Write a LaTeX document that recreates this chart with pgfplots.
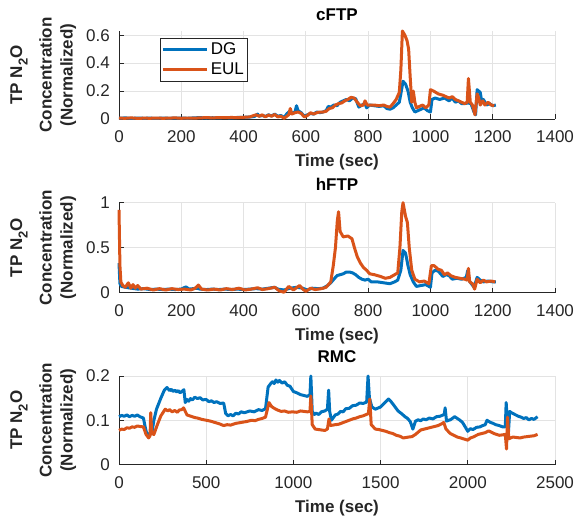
\documentclass[border=0pt]{standalone}
\usepackage{fontspec}
\setmainfont{Liberation Sans}
\usepackage{pgfplots}
\pgfplotsset{compat=1.18}
\definecolor{mBlue}{HTML}{0072BD}
\definecolor{mOrange}{HTML}{D95319}
\definecolor{axc}{HTML}{262626}
\definecolor{gridc}{HTML}{E3E3E3}
\pgfplotsset{
  mystyle/.style={
    scale only axis,
    width=436pt,
    clip=false,
    axis x line*=bottom,
    axis y line*=left,
    axis line style={axc, line width=0.7pt, -},
    tick style={axc, line width=0.7pt},
    major tick length=4.5pt,
    tick align=inside,
    grid=major,
    major grid style={gridc, line width=0.8pt},
    xmin=0,
    ymin=0,
    scaled y ticks=false,
    scaled x ticks=false,
    /pgf/number format/assume math mode=true,
    /pgf/number format/fixed,
    /pgf/number format/1000 sep={},
    ticklabel style={font=\fontsize{17}{20}\selectfont, text=axc},
    xticklabel style={inner sep=0pt, anchor=north, yshift=-11.5pt},
    yticklabel style={inner sep=0pt, anchor=east, xshift=-9pt},
    xlabel={Time (sec)},
    xlabel style={font=\bfseries\fontsize{17}{20}\selectfont, text=axc, at={(axis description cs:0.5,0)}, anchor=base, inner sep=0pt, yshift=-48pt},
    ylabel={TP N\raisebox{-5.5pt}{\fontsize{13}{13}\selectfont 2}O\\[8.5pt]Concentration\\(Normalized)},
    ylabel style={align=center, font=\bfseries\fontsize{17}{21}\selectfont, text=axc, at={(axis description cs:-0.25,0.5)}, rotate=0, anchor=north, inner sep=0pt},
    title style={font=\bfseries\fontsize{17}{20}\selectfont, text=black, at={(axis description cs:0.5,1)}, anchor=base, inner sep=0pt},
    every axis plot/.append style={line width=3pt, line join=round},
  },
}
\begin{document}
\begin{tikzpicture}
\path[use as bounding box] (0pt,0pt) rectangle (577pt,525pt);
% cFTP
\begin{axis}[mystyle, at={(119pt,406pt)}, anchor=south west, height=88pt,
  xmax=1400, ymax=0.63, xtick={0,200,...,1400}, ytick={0,0.2,0.4,0.6},
  title={cFTP}, title style={yshift=4.5pt},
  legend style={at={(0.094,0.92)}, anchor=north west, draw=axc, line width=0.7pt, fill=white,
    font=\fontsize{17}{20}\selectfont, inner xsep=1.5pt, inner ysep=2.5pt, row sep=3pt,
    cells={anchor=west}},
  legend image code/.code={\draw[#1, line width=3pt] (0pt,0pt) -- (44pt,0pt);}]
\addplot[mBlue] coordinates {(0,0.005)(20,0.008)(40,0.004)(60,0.007)(80,0.005)(100,0.006)(120,0.004)(140,0.007)(160,0.005)(180,0.006)(200,0.007)(220,0.005)(240,0.008)(260,0.010)(280,0.007)(300,0.009)(320,0.008)(340,0.010)(360,0.008)(380,0.011)(400,0.012)(420,0.014)(435,0.018)(445,0.035)(450,0.02)(460,0.025)(470,0.018)(480,0.03)(490,0.022)(500,0.035)(510,0.02)(520,0.025)(530,0.01)(540,0.04)(550,0.06)(555,0.04)(565,0.05)(570,0.095)(575,0.06)(585,0.045)(595,0.02)(605,0.03)(615,0.04)(625,0.035)(635,0.05)(645,0.045)(655,0.05)(665,0.06)(672,0.09)(680,0.085)(690,0.1)(700,0.095)(710,0.12)(720,0.13)(730,0.14)(740,0.13)(750,0.15)(760,0.145)(770,0.085)(780,0.1)(790,0.11)(795,0.08)(805,0.1)(820,0.095)(835,0.09)(850,0.095)(860,0.075)(870,0.07)(880,0.08)(890,0.1)(900,0.12)(905,0.18)(912,0.27)(920,0.25)(928,0.2)(935,0.12)(942,0.08)(950,0.05)(960,0.06)(970,0.07)(980,0.08)(990,0.06)(1000,0.05)(1005,0.14)(1015,0.15)(1030,0.14)(1045,0.15)(1060,0.13)(1070,0.15)(1080,0.12)(1090,0.13)(1100,0.11)(1110,0.11)(1120,0.115)(1130,0.11)(1140,0.05)(1145,0.03)(1150,0.21)(1160,0.19)(1165,0.12)(1170,0.14)(1180,0.1)(1190,0.11)(1200,0.095)(1210,0.1)};
\addlegendentry{DG}
\addplot[mOrange] coordinates {(0,0.006)(20,0.005)(40,0.008)(60,0.004)(80,0.006)(100,0.005)(120,0.007)(140,0.005)(160,0.006)(180,0.008)(200,0.005)(220,0.007)(240,0.006)(260,0.008)(280,0.01)(300,0.008)(320,0.01)(340,0.009)(360,0.011)(380,0.01)(400,0.012)(420,0.015)(440,0.03)(450,0.02)(460,0.03)(470,0.015)(480,0.028)(490,0.02)(500,0.032)(510,0.015)(520,0.02)(530,0.005)(545,0.03)(550,0.075)(555,0.035)(565,0.045)(575,0.05)(585,0.04)(595,0.015)(605,0.025)(615,0.045)(625,0.035)(635,0.045)(645,0.05)(655,0.05)(665,0.055)(675,0.075)(685,0.08)(695,0.1)(705,0.11)(715,0.115)(725,0.13)(735,0.14)(745,0.155)(755,0.15)(765,0.12)(775,0.095)(785,0.1)(790,0.13)(797,0.1)(805,0.1)(820,0.1)(835,0.095)(850,0.1)(860,0.09)(870,0.085)(880,0.11)(890,0.14)(900,0.19)(905,0.35)(910,0.63)(918,0.6)(925,0.56)(930,0.5)(935,0.3)(940,0.12)(945,0.2)(950,0.12)(955,0.08)(965,0.09)(975,0.1)(985,0.08)(995,0.1)(1000,0.21)(1010,0.2)(1025,0.18)(1040,0.17)(1050,0.16)(1060,0.15)(1070,0.16)(1080,0.14)(1090,0.13)(1100,0.12)(1110,0.11)(1118,0.12)(1122,0.29)(1128,0.12)(1135,0.1)(1143,0.03)(1150,0.18)(1155,0.15)(1160,0.1)(1168,0.13)(1175,0.1)(1185,0.12)(1195,0.1)(1205,0.095)};
\addlegendentry{EUL}
\end{axis}
% hFTP
\begin{axis}[mystyle, at={(119pt,232.3pt)}, anchor=south west, height=90pt,
  xmax=1400, ymax=1, xtick={0,200,...,1400}, ytick={0,0.5,1},
  title={hFTP}, title style={yshift=6.5pt}]
\addplot[mBlue] coordinates {(0,0.33)(3,0.1)(8,0.07)(20,0.06)(40,0.05)(60,0.04)(80,0.045)(100,0.035)(120,0.04)(140,0.035)(160,0.04)(180,0.035)(200,0.04)(215,0.065)(225,0.04)(250,0.05)(260,0.04)(280,0.035)(300,0.04)(320,0.035)(340,0.04)(360,0.035)(380,0.04)(400,0.035)(420,0.04)(440,0.045)(460,0.04)(480,0.05)(500,0.06)(510,0.04)(530,0.03)(550,0.05)(570,0.06)(590,0.05)(605,0.03)(620,0.05)(640,0.045)(655,0.05)(670,0.08)(680,0.11)(690,0.15)(700,0.19)(710,0.2)(720,0.21)(730,0.23)(740,0.23)(750,0.22)(760,0.2)(770,0.17)(780,0.15)(790,0.14)(800,0.15)(810,0.12)(830,0.12)(850,0.11)(870,0.1)(885,0.12)(895,0.14)(905,0.25)(912,0.47)(920,0.44)(928,0.3)(935,0.2)(945,0.12)(955,0.07)(970,0.08)(985,0.09)(1000,0.06)(1005,0.22)(1015,0.25)(1025,0.24)(1040,0.18)(1050,0.2)(1060,0.19)(1070,0.15)(1085,0.16)(1100,0.15)(1115,0.17)(1120,0.25)(1125,0.13)(1140,0.06)(1150,0.17)(1160,0.14)(1170,0.12)(1185,0.13)(1200,0.12)(1210,0.12)};
\addplot[mOrange] coordinates {(0,0.92)(3,0.3)(6,0.12)(12,0.08)(20,0.06)(30,0.11)(38,0.05)(45,0.09)(52,0.05)(60,0.08)(70,0.04)(90,0.05)(110,0.03)(130,0.045)(150,0.03)(170,0.045)(190,0.035)(210,0.04)(230,0.03)(245,0.05)(255,0.085)(265,0.04)(285,0.03)(305,0.04)(325,0.03)(345,0.045)(365,0.035)(385,0.05)(405,0.03)(425,0.04)(445,0.055)(460,0.035)(480,0.045)(500,0.06)(515,0.02)(530,0.005)(545,0.07)(560,0.03)(580,0.08)(590,0.04)(600,0.015)(615,0.05)(630,0.035)(650,0.045)(665,0.06)(680,0.12)(688,0.3)(695,0.5)(701,0.8)(705,0.9)(710,0.68)(720,0.62)(735,0.63)(748,0.6)(756,0.5)(765,0.4)(775,0.33)(785,0.28)(795,0.25)(805,0.21)(820,0.2)(840,0.18)(855,0.16)(870,0.17)(885,0.2)(895,0.22)(902,0.5)(908,0.9)(912,1.0)(920,0.85)(926,0.78)(932,0.5)(940,0.25)(950,0.15)(965,0.12)(980,0.13)(995,0.1)(1003,0.3)(1012,0.3)(1025,0.26)(1035,0.25)(1045,0.2)(1055,0.22)(1065,0.19)(1080,0.17)(1095,0.16)(1110,0.15)(1118,0.14)(1122,0.27)(1126,0.12)(1135,0.1)(1142,0.04)(1150,0.15)(1160,0.11)(1170,0.14)(1180,0.12)(1195,0.13)(1208,0.12)};
\end{axis}
% RMC
\begin{axis}[mystyle, at={(119pt,60.5pt)}, anchor=south west, height=88.5pt,
  xmax=2500, ymax=0.2, xtick={0,500,...,2500}, ytick={0,0.1,0.2},
  title={RMC}, title style={yshift=7.5pt}]
\addplot[mBlue] coordinates {(0,0.108)(15,0.111)(30,0.109)(45,0.112)(60,0.108)(75,0.111)(90,0.109)(105,0.112)(120,0.108)(140,0.105)(150,0.085)(160,0.068)(175,0.07)(190,0.075)(200,0.1)(215,0.125)(240,0.15)(260,0.168)(275,0.174)(290,0.167)(300,0.17)(310,0.165)(320,0.168)(330,0.164)(340,0.167)(350,0.162)(360,0.165)(372,0.169)(380,0.14)(390,0.147)(400,0.143)(410,0.149)(420,0.146)(435,0.152)(450,0.149)(465,0.151)(480,0.146)(500,0.147)(515,0.142)(530,0.144)(545,0.14)(560,0.142)(580,0.138)(600,0.139)(612,0.115)(625,0.11)(640,0.113)(655,0.11)(670,0.116)(685,0.114)(700,0.119)(720,0.117)(750,0.121)(775,0.119)(800,0.124)(820,0.122)(840,0.126)(855,0.175)(870,0.183)(880,0.187)(890,0.183)(900,0.191)(910,0.186)(920,0.19)(935,0.184)(950,0.187)(965,0.179)(980,0.177)(1000,0.165)(1020,0.162)(1040,0.158)(1060,0.156)(1080,0.154)(1095,0.158)(1100,0.2)(1108,0.12)(1120,0.113)(1130,0.116)(1145,0.113)(1160,0.119)(1180,0.121)(1195,0.125)(1202,0.168)(1208,0.12)(1218,0.1)(1240,0.112)(1255,0.114)(1270,0.12)(1285,0.119)(1300,0.126)(1320,0.127)(1340,0.133)(1360,0.134)(1380,0.139)(1400,0.138)(1420,0.141)(1428,0.2)(1436,0.15)(1450,0.13)(1470,0.125)(1500,0.13)(1525,0.14)(1545,0.148)(1560,0.142)(1570,0.137)(1585,0.129)(1600,0.121)(1620,0.115)(1640,0.108)(1655,0.104)(1670,0.097)(1685,0.08)(1700,0.098)(1715,0.101)(1730,0.099)(1745,0.103)(1760,0.101)(1780,0.105)(1800,0.103)(1820,0.108)(1840,0.109)(1865,0.113)(1870,0.128)(1878,0.098)(1890,0.1)(1900,0.101)(1925,0.108)(1940,0.104)(1955,0.1)(1970,0.095)(1985,0.085)(2000,0.075)(2015,0.081)(2030,0.079)(2050,0.084)(2070,0.085)(2085,0.088)(2100,0.09)(2110,0.1)(2130,0.095)(2145,0.093)(2160,0.09)(2180,0.088)(2200,0.085)(2215,0.085)(2220,0.14)(2232,0.065)(2240,0.12)(2250,0.117)(2260,0.115)(2275,0.112)(2290,0.109)(2305,0.107)(2320,0.104)(2335,0.106)(2350,0.101)(2365,0.104)(2380,0.102)(2400,0.108)};
\addplot[mOrange] coordinates {(0,0.077)(15,0.08)(30,0.079)(45,0.083)(60,0.082)(75,0.085)(90,0.084)(105,0.087)(120,0.086)(140,0.085)(155,0.068)(170,0.06)(178,0.065)(182,0.117)(188,0.07)(200,0.068)(220,0.09)(240,0.11)(265,0.125)(280,0.121)(290,0.124)(305,0.119)(320,0.122)(335,0.118)(345,0.123)(360,0.124)(370,0.128)(390,0.112)(405,0.11)(420,0.108)(435,0.106)(450,0.105)(475,0.102)(500,0.1)(525,0.098)(550,0.095)(575,0.092)(600,0.088)(620,0.09)(640,0.089)(670,0.093)(700,0.095)(730,0.097)(760,0.1)(780,0.099)(800,0.102)(820,0.104)(840,0.107)(860,0.14)(875,0.131)(890,0.127)(910,0.123)(930,0.12)(950,0.121)(970,0.118)(995,0.119)(1020,0.118)(1040,0.121)(1060,0.12)(1080,0.119)(1095,0.12)(1100,0.155)(1108,0.09)(1125,0.08)(1145,0.079)(1160,0.078)(1180,0.077)(1195,0.08)(1204,0.103)(1212,0.088)(1240,0.09)(1260,0.091)(1280,0.094)(1300,0.097)(1320,0.1)(1340,0.103)(1360,0.105)(1380,0.108)(1400,0.11)(1430,0.115)(1438,0.148)(1446,0.09)(1470,0.08)(1490,0.079)(1510,0.077)(1530,0.075)(1550,0.072)(1570,0.07)(1590,0.066)(1610,0.064)(1630,0.06)(1660,0.062)(1680,0.063)(1700,0.068)(1730,0.078)(1750,0.08)(1770,0.082)(1790,0.084)(1810,0.086)(1830,0.088)(1850,0.092)(1862,0.095)(1875,0.08)(1900,0.07)(1920,0.066)(1940,0.062)(1960,0.06)(1975,0.058)(2000,0.055)(2015,0.06)(2030,0.062)(2045,0.065)(2060,0.068)(2080,0.07)(2100,0.072)(2120,0.076)(2135,0.073)(2150,0.07)(2165,0.068)(2180,0.066)(2200,0.067)(2215,0.068)(2222,0.035)(2228,0.107)(2235,0.058)(2250,0.061)(2260,0.062)(2280,0.061)(2300,0.06)(2320,0.062)(2340,0.063)(2360,0.064)(2380,0.065)(2400,0.068)};
\end{axis}
\end{tikzpicture}
\end{document}
